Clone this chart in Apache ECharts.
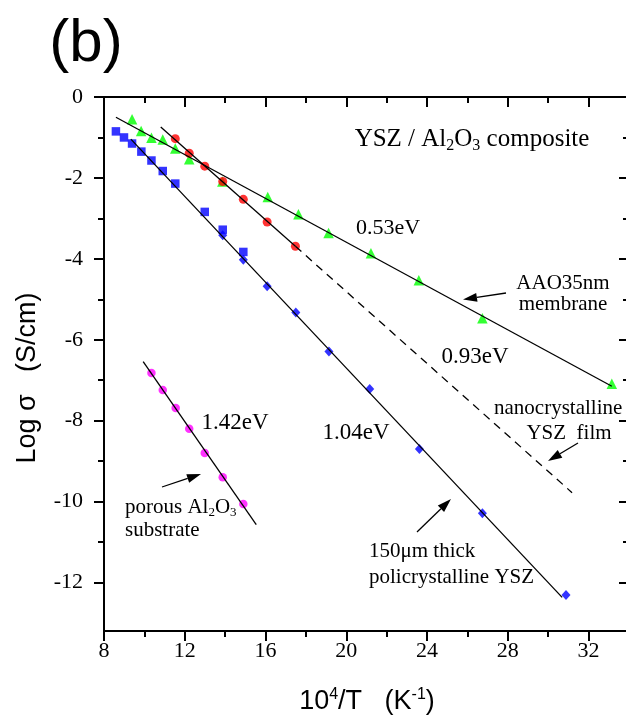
<!DOCTYPE html>
<html><head><meta charset="utf-8">
<script src="https://cdn.jsdelivr.net/npm/echarts@6/dist/echarts.min.js"></script>
<style>html,body{margin:0;padding:0;background:#fff}#c{width:626px;height:719px}</style>
</head><body><div id="c"></div>
<script>
// ---- axis ticks ----
const xTickLabels = [8, 12, 16, 20, 24, 28, 32];
const xMinorTicks = [10, 14, 18, 22, 26, 30, 34];
const yMajorTicks = [0, -2, -4, -6, -8, -10, -12];
const yMinorTicks = [-1, -3, -5, -7, -9, -11];

// ---- data (x = 10^4/T, y = log sigma) ----
const sqX = [8.59, 8.99, 9.39, 9.85, 10.35, 10.91, 11.53, 12.99, 13.88, 14.90];
const sqY = [-0.85, -1.00, -1.15, -1.35, -1.57, -1.83, -2.14, -2.84, -3.28, -3.83];

const diaX = [13.88, 14.90, 16.08, 17.50, 19.14, 21.16, 23.62, 26.74, 30.88];
const diaY = [-3.42, -4.02, -4.68, -5.33, -6.29, -7.22, -8.70, -10.29, -12.31];

const triX = [9.39, 9.84, 10.35, 10.91, 11.53, 12.22, 13.86, 16.11, 17.63, 19.12, 21.22, 23.59, 26.74, 33.15];
const triY = [-0.55, -0.84, -1.01, -1.05, -1.27, -1.54, -2.09, -2.47, -2.90, -3.36, -3.86, -4.53, -5.47, -7.09];

const redX = [11.53, 12.22, 12.99, 13.88, 14.90, 16.08, 17.48];
const redY = [-1.03, -1.39, -1.71, -2.09, -2.53, -3.09, -3.69];

const magX = [10.35, 10.91, 11.55, 12.22, 12.99, 13.88, 14.90];
const magY = [-6.82, -7.24, -7.69, -8.20, -8.80, -9.40, -10.06];

// ---- fitted lines (end points) ----
const fitBlueX = [9.33, 30.69],  fitBlueY = [-1.04, -12.37];
const fitGreenX = [8.59, 33.15], fitGreenY = [-0.50, -7.15];
const fitRedX = [10.81, 17.48],  fitRedY = [-0.74, -3.69];
const fitRedDashX = [17.48, 31.18], fitRedDashY = [-3.69, -9.78];
const fitMagX = [9.94, 15.54],   fitMagY = [-6.54, -10.57];

const zip = (xs, ys) => xs.map((x, i) => [x, ys[i]]);

const SERIF = 'Liberation Serif';
const SANS = 'Liberation Sans';
const YMIN = -13.2, YMAX = 0, XMIN = 8, XMAX = 34;

function scatter(name, xs, ys, symbol, size, color) {
  return { name, type: 'scatter', data: zip(xs, ys), symbol, symbolSize: size,
    itemStyle: { color }, z: 3, silent: true, animation: false };
}
function fitLine(xs, ys, dashed) {
  return { type: 'line', data: zip(xs, ys), showSymbol: false, symbol: 'none',
    lineStyle: { color: '#000', width: 1.3, type: dashed ? [8, 6] : 'solid' },
    z: 4, silent: true, animation: false };
}

function txt(x, y, text, size, opts) {
  opts = opts || {};
  const st = {
    x: 0, y: 0, text, fill: '#000',
    font: size + 'px "' + (opts.family || SERIF) + '"',
    fontSize: size, fontFamily: opts.family || SERIF,
    align: opts.align || 'center', textAlign: opts.align || 'center',
    verticalAlign: 'middle', textVerticalAlign: 'middle'
  };
  if (opts.rich) st.rich = opts.rich;
  return { type: 'text', x, y, rotation: opts.rotation || 0, style: st, z: 10, silent: true };
}
function arrow(x1, y1, x2, y2) {
  const ang = Math.atan2(y2 - y1, x2 - x1);
  const L = 14, W = 4.5;
  const bx = x2 - L * Math.cos(ang), by = y2 - L * Math.sin(ang);
  const px = -Math.sin(ang) * W, py = Math.cos(ang) * W;
  return [
    { type: 'line', shape: { x1, y1, x2: bx, y2: by }, style: { stroke: '#000', lineWidth: 1.3 }, z: 10, silent: true },
    { type: 'polygon', shape: { points: [[x2, y2], [bx + px, by + py], [bx - px, by - py]] }, style: { fill: '#000' }, z: 10, silent: true }
  ];
}
function subRich(size, family) {
  const f = family || SERIF;
  return {
    n: { fontSize: size, fontFamily: f, color: '#000' },
    s: { fontSize: Math.round(size * 0.62), fontFamily: f, color: '#000', padding: [Math.round(size * 0.55), 0, 0, 0] },
    u: { fontSize: Math.round(size * 0.6), fontFamily: f, color: '#000', padding: [0, 0, Math.round(size * 0.55), 0] }
  };
}

const annotations = [
  txt(86, 44, '(b)', 60, { family: SANS }),
  txt(472, 139, '{n|YSZ / Al}{s|2}{n|O}{s|3}{n| composite}', 25, { rich: subRich(25) }),
  txt(388, 228, '0.53eV', 22),
  txt(563, 283, 'AAO35nm', 21),
  txt(563, 304, 'membrane', 21),
  txt(475, 357, '0.93eV', 23),
  txt(494, 408, 'nanocrystalline', 21, { align: 'left' }),
  txt(569, 433, 'YSZ  film', 21),
  txt(356, 433, '1.04eV', 23),
  txt(369, 551, '150\u03bcm thick', 21, { align: 'left' }),
  txt(369, 577, 'policrystalline YSZ', 21, { align: 'left' }),
  txt(235, 423, '1.42eV', 23),
  txt(125, 507, '{n|porous Al}{s|2}{n|O}{s|3}', 21, { align: 'left', rich: subRich(21) }),
  txt(125, 530, 'substrate', 21, { align: 'left' }),
  txt(28, 378, 'Log \u03c3   (S/cm)', 27, { family: SANS, rotation: Math.PI / 2 }),
  txt(367, 702, '{n|10}{u|4}{n|/T   (K}{u|-1}{n|)}', 27, { family: SANS, rich: subRich(27, SANS) })
].concat(
  arrow(506, 293, 463, 299.5),
  arrow(578, 443, 548, 461),
  arrow(417, 532, 451, 499),
  arrow(162, 487, 201, 474)
);

const tickStyle = { color: '#000', width: 2 };
const lineStyle = { color: '#000', width: 2 };

const option = {
  animation: false,
  backgroundColor: '#fff',
  grid: { left: 104, top: 97, width: 525, height: 534, containLabel: false, outerBoundsMode: 'none' },
  xAxis: [
    { type: 'value', position: 'bottom', min: XMIN, max: XMAX,
      axisLine: { onZero: false, lineStyle },
      axisTick: { show: true, inside: false, length: 10, lineStyle: tickStyle, customValues: xTickLabels },
      axisLabel: { margin: 9, fontFamily: SERIF, fontSize: 22, color: '#000', customValues: xTickLabels },
      splitLine: { show: false } },
    { type: 'value', position: 'top', min: XMIN, max: XMAX,
      axisLine: { onZero: false, lineStyle }, axisTick: { show: false },
      axisLabel: { show: false }, splitLine: { show: false } }
  ],
  yAxis: [
    { type: 'value', position: 'left', min: YMIN, max: YMAX,
      axisLine: { onZero: false, lineStyle },
      axisTick: { show: true, inside: false, length: 10, lineStyle: tickStyle, customValues: yMajorTicks },
      axisLabel: { margin: 21, fontFamily: SERIF, fontSize: 22, color: '#000', customValues: yMajorTicks },
      splitLine: { show: false } },
    { type: 'value', position: 'right', min: YMIN, max: YMAX,
      axisLine: { onZero: false, lineStyle }, axisTick: { show: false },
      axisLabel: { show: false }, splitLine: { show: false } }
  ],
  series: [
    scatter('150um YSZ (squares)', sqX, sqY, 'rect', 8.5, '#0000ff'),
    scatter('150um YSZ (diamonds)', diaX, diaY, 'diamond', [9, 10], '#0000ff'),
    scatter('AAO35nm membrane', triX, triY, 'triangle', 10.5, '#00ff00'),
    scatter('nanocrystalline YSZ film', redX, redY, 'circle', 9, '#ff0000'),
    scatter('porous Al2O3 substrate', magX, magY, 'circle', 8.5, '#ff00ff'),
    fitLine(fitBlueX, fitBlueY, false),
    fitLine(fitGreenX, fitGreenY, false),
    fitLine(fitRedX, fitRedY, false),
    fitLine(fitRedDashX, fitRedDashY, true),
    fitLine(fitMagX, fitMagY, false)
  ]
};

const chart = echarts.init(document.getElementById('c'), null, { renderer: 'canvas' });
chart.setOption(option);

// frame ticks (minor ticks on bottom/left; all ticks on top/right) through the chart's own scales
const p0 = chart.convertToPixel({ xAxisIndex: 0, yAxisIndex: 0 }, [XMIN, YMIN]);
const p1 = chart.convertToPixel({ xAxisIndex: 0, yAxisIndex: 0 }, [XMAX, YMAX]);
const pxPerX = (p1[0] - p0[0]) / (XMAX - XMIN);
const pxPerY = (p0[1] - p1[1]) / (YMAX - YMIN);
const MAJ = 10, MINL = 6;
const tickCoords = [];
xTickLabels.forEach(v => tickCoords.push([[v, YMAX], [v, YMAX - MAJ / pxPerY]]));
xMinorTicks.forEach(v => {
  tickCoords.push([[v, YMAX], [v, YMAX - MINL / pxPerY]]);
  tickCoords.push([[v, YMIN], [v, YMIN - MINL / pxPerY]]);
});
yMajorTicks.forEach(v => tickCoords.push([[XMAX, v], [XMAX - MAJ / pxPerX, v]]));
yMinorTicks.forEach(v => {
  tickCoords.push([[XMAX, v], [XMAX - MINL / pxPerX, v]]);
  tickCoords.push([[XMIN, v], [XMIN - MINL / pxPerX, v]]);
});

const ticksSeries = {
  type: 'lines', coordinateSystem: 'cartesian2d', xAxisIndex: 0, yAxisIndex: 0,
  clip: false, silent: true, animation: false, z: 5,
  lineStyle: { color: '#000', width: 2, opacity: 1, curveness: 0 },
  data: tickCoords.map(c => ({ coords: c }))
};

chart.setOption({ series: option.series.concat([ticksSeries]), graphic: annotations });
</script>
</body></html>
